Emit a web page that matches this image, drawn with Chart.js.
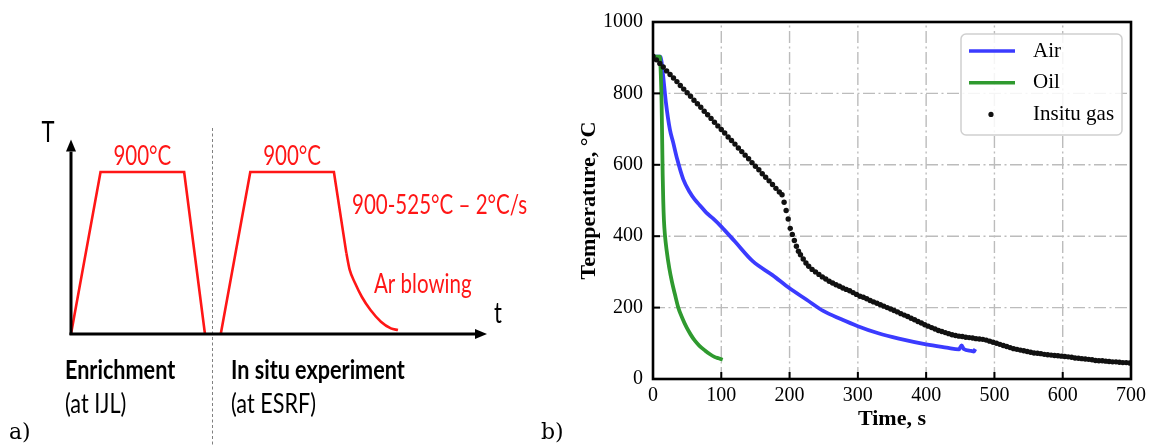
<!DOCTYPE html>
<html>
<head>
<meta charset="utf-8">
<title>Heat treatment and cooling curves</title>
<script src="https://cdn.jsdelivr.net/npm/chart.js@4.4.0/dist/chart.umd.min.js"></script>
<style>
  body { margin: 0; background: #fff; }
  #wrap { position: relative; width: 1151px; height: 446px; background: #fff; }
  canvas { position: absolute; top: 0; }
</style>
</head>
<body>
<div id="wrap">
  <canvas id="schematic" width="530" height="446" style="left:0"></canvas>
  <canvas id="cooling" width="621" height="446" style="left:530px"></canvas>
</div>
<script>
// a) heat treatment schematic (arbitrary time units, temperature in °C)
const enrichTime = [0, 7.1, 27.2, 32.2];
const enrichTemp = [0, 900, 900, 0];
const insituTime = [36.0, 43.1, 63.2, 66.2];
const insituTemp = [0, 900, 900, 448];
const blowTime = [66.2, 67.0, 68.3, 69.9, 72.0, 74.5, 76.9, 78.6];
const blowTemp = [448, 356, 282, 207, 133, 68, 31, 22];

// b) measured cooling curves, time in s, temperature in °C
const airTime = [1, 11, 12.6, 16, 19, 24.7, 29.6, 35.4, 44.2, 53.9,
  61, 68.4, 78, 87.8, 100, 120, 146, 175, 200, 225,
  250, 275, 300, 330, 360, 400, 430, 448, 452, 455,
  466, 470, 472];
const airTemp = [903, 903, 888, 828, 773, 699, 662, 616, 560, 523,
  503, 487, 466, 450, 427, 385, 330, 291, 254, 222,
  190, 168, 148, 128, 113, 97, 88, 83, 94, 84,
  79, 77, 84];

const oilTime = [1, 10, 11.5, 12.6, 13.5, 14.2, 15, 16, 17.5, 20,
  23.8, 28, 32, 37, 43, 49, 55, 61, 68, 76,
  83, 90, 96, 102];
const oilTemp = [903, 903, 850, 773, 660, 570, 500, 445, 403, 360,
  311, 270, 238, 200, 170, 145, 125, 108, 93, 80,
  70, 62, 58, 54];

const gasTime = [0, 5, 10, 15, 20, 25, 30, 35, 40, 45,
  50, 55, 60, 65, 70, 75, 80, 85, 90, 95,
  100, 105, 110, 115, 120, 125, 130, 135, 140, 145,
  150, 155, 160, 165, 170, 175, 180, 185, 189, 192,
  195, 198, 201, 204, 207, 210, 213, 216, 220, 224,
  228, 233, 238, 243, 248, 253, 258, 263, 268, 273,
  278, 283, 288, 293, 298, 303, 308, 313, 318, 323,
  328, 333, 338, 343, 348, 353, 358, 363, 368, 373,
  378, 383, 388, 393, 398, 403, 408, 413, 418, 423,
  428, 433, 438, 443, 448, 453, 458, 463, 468, 473,
  478, 483, 488, 493, 498, 503, 508, 513, 518, 523,
  528, 533, 538, 543, 548, 553, 558, 563, 568, 573,
  578, 583, 588, 593, 598, 603, 608, 613, 618, 623,
  628, 633, 638, 643, 648, 653, 658, 663, 668, 673,
  678, 683, 688, 693, 698];
const gasTemp = [904, 894, 884, 874, 863, 853, 843, 833, 822, 812,
  802, 792, 781, 771, 761, 750, 740, 730, 719, 709,
  699, 689, 678, 668, 658, 647, 637, 627, 617, 606,
  596, 586, 575, 565, 555, 545, 534, 524, 516, 495,
  472, 448, 422, 405, 388, 372, 358, 348, 336, 325,
  316, 307, 300, 293, 286, 280, 274, 269, 264, 260,
  255, 251, 247, 242, 237, 232, 229, 225, 220, 216,
  212, 208, 204, 200, 196, 192, 188, 183, 179, 175,
  170, 166, 161, 157, 152, 148, 144, 140, 136, 133,
  130, 127, 124, 122, 120, 119, 117, 116, 115, 113,
  112, 111, 109, 106, 103, 100, 97, 94, 91, 88,
  85, 83, 81, 79, 77, 75, 73, 72, 71, 69,
  68, 67, 66, 65, 64, 63, 62, 61, 59, 58,
  57, 56, 55, 54, 52, 51, 51, 50, 49, 48,
  48, 47, 46, 46, 45];

const toXY = (xs, ys) => xs.map((x, i) => ({ x: x, y: ys[i] }));

const red = '#ff1616';
const sans = 'Lato, "Open Sans", sans-serif';
const serif = '"Liberation Serif", "Times New Roman", serif';

// draws text squeezed horizontally (the schematic uses a narrow font)
function squeezeText(ctx, text, x, y, font, color, align, k) {
  ctx.save();
  ctx.font = font;
  ctx.fillStyle = color;
  ctx.textAlign = 'left';
  ctx.textBaseline = 'alphabetic';
  const w = ctx.measureText(text).width * k;
  const x0 = align === 'center' ? x - w / 2 : x;
  ctx.translate(x0, y);
  ctx.scale(k, 1);
  ctx.fillText(text, 0, 0);
  ctx.restore();
}

function arrowLine(ctx, x1, y1, x2, y2) {
  const ang = Math.atan2(y2 - y1, x2 - x1);
  const len = 12, half = 5;
  ctx.beginPath();
  ctx.moveTo(x1, y1);
  ctx.lineTo(x2 - Math.cos(ang) * len, y2 - Math.sin(ang) * len);
  ctx.stroke();
  ctx.beginPath();
  ctx.moveTo(x2, y2);
  ctx.lineTo(x2 - Math.cos(ang) * len - Math.sin(ang) * half, y2 - Math.sin(ang) * len + Math.cos(ang) * half);
  ctx.lineTo(x2 - Math.cos(ang) * len + Math.sin(ang) * half, y2 - Math.sin(ang) * len - Math.cos(ang) * half);
  ctx.closePath();
  ctx.fill();
}

const schematicDecor = {
  id: 'schematicDecor',
  beforeDatasetsDraw(chart) {
    const { ctx, scales: { x } } = chart;
    // dotted divider between the two steps
    const px = Math.round(x.getPixelForValue(34)) + 0.5;
    ctx.save();
    ctx.strokeStyle = '#808080';
    ctx.lineWidth = 1;
    ctx.setLineDash([3, 2.5]);
    ctx.beginPath();
    ctx.moveTo(px, 128);
    ctx.lineTo(px, 446);
    ctx.stroke();
    ctx.restore();
  },
  afterDatasetsDraw(chart) {
    const { ctx, chartArea: a } = chart;
    ctx.save();
    ctx.strokeStyle = '#000';
    ctx.fillStyle = '#000';
    ctx.lineWidth = 3;
    arrowLine(ctx, a.left, a.bottom + 1, a.left, a.top);
    arrowLine(ctx, a.left - 1.5, a.bottom, a.right, a.bottom);
    ctx.restore();
  },
  afterDraw(chart) {
    const { ctx, scales: { x, y } } = chart;
    const k = 0.76;
    const f = '27px ' + sans;
    const fb = 'bold 27px ' + sans;
    const topY = y.getPixelForValue(900) - 7;
    squeezeText(ctx, '900°C', x.getPixelForValue((enrichTime[1] + enrichTime[2]) / 2), topY, f, red, 'center', k);
    squeezeText(ctx, '900°C', x.getPixelForValue((insituTime[1] + insituTime[2]) / 2), topY, f, red, 'center', k);
    squeezeText(ctx, '900-525°C – 2°C/s', 352, 214, f, red, 'left', k);
    squeezeText(ctx, 'Ar blowing', 374, 293, f, red, 'left', k);
    squeezeText(ctx, 'T', 48, 142, '29px ' + sans, '#000', 'center', k);
    squeezeText(ctx, 't', 494, 323, '29px ' + sans, '#000', 'left', k);
    squeezeText(ctx, 'Enrichment', 65, 379, fb, '#000', 'left', 0.8);
    squeezeText(ctx, '(at IJL)', 65, 413, f, '#000', 'left', 0.8);
    squeezeText(ctx, 'In situ experiment', 231, 379, fb, '#000', 'left', 0.8);
    squeezeText(ctx, '(at ESRF)', 231, 413, f, '#000', 'left', 0.8);
    ctx.save();
    ctx.font = '22px "DejaVu Serif", serif';
    ctx.fillStyle = '#000';
    ctx.fillText('a)', 9, 439);
    ctx.restore();
  }
};

new Chart(document.getElementById('schematic'), {
  type: 'scatter',
  data: {
    datasets: [
      { data: toXY(enrichTime, enrichTemp), showLine: true, borderColor: red, borderWidth: 2.6, pointRadius: 0 },
      { data: toXY(insituTime, insituTemp), showLine: true, borderColor: red, borderWidth: 2.6, pointRadius: 0 },
      { data: toXY(blowTime, blowTemp), showLine: true, borderColor: red, borderWidth: 2.6, pointRadius: 0,
        cubicInterpolationMode: 'monotone' }
    ]
  },
  options: {
    responsive: false,
    animation: false,
    devicePixelRatio: 1,
    layout: { padding: { left: 71, right: 43, top: 139.6, bottom: 112 } },
    scales: {
      x: { type: 'linear', display: false, min: 0, max: 100 },
      y: { display: false, min: 0, max: 1080 }
    },
    plugins: { legend: { display: false }, tooltip: { enabled: false } }
  },
  plugins: [schematicDecor]
});

// b) cooling curves
const tickFont = { family: serif, size: 20 };
const titleFont = { family: serif, size: 22, weight: 'bold' };

const frameAndLegend = {
  id: 'frameAndLegend',
  beforeDatasetsDraw(chart) {
    const { ctx, chartArea: a, scales: { x, y } } = chart;
    ctx.save();
    ctx.strokeStyle = '#bcbcbc';
    ctx.lineWidth = 1.4;
    ctx.setLineDash([12, 3.5, 2, 3.5]);
    x.ticks.forEach(t => {
      if (t.value <= x.min || t.value >= x.max) return;
      const px = x.getPixelForValue(t.value);
      ctx.beginPath();
      ctx.moveTo(px, a.bottom);
      ctx.lineTo(px, a.top);
      ctx.stroke();
    });
    y.ticks.forEach(t => {
      if (t.value <= y.min || t.value >= y.max) return;
      const py = y.getPixelForValue(t.value);
      ctx.beginPath();
      ctx.moveTo(a.left, py);
      ctx.lineTo(a.right, py);
      ctx.stroke();
    });
    ctx.restore();
  },
  afterDatasetsDraw(chart) {
    const { ctx, chartArea: a, scales: { x, y } } = chart;
    ctx.save();
    ctx.strokeStyle = '#000';
    ctx.lineWidth = 2;
    x.ticks.forEach(t => {
      const px = x.getPixelForValue(t.value);
      ctx.beginPath();
      ctx.moveTo(px, a.bottom);
      ctx.lineTo(px, a.bottom - 7);
      ctx.stroke();
    });
    y.ticks.forEach(t => {
      const py = y.getPixelForValue(t.value);
      ctx.beginPath();
      ctx.moveTo(a.left, py);
      ctx.lineTo(a.left + 7, py);
      ctx.stroke();
    });
    ctx.lineWidth = 2.6;
    ctx.strokeRect(a.left, a.top, a.right - a.left, a.bottom - a.top);
    ctx.restore();
  },
  afterDraw(chart) {
    const { ctx, chartArea: a } = chart;
    // legend box in the upper right corner of the plot
    const bx = a.right - 170, by = a.top + 12, bw = 161, bh = 101;
    ctx.save();
    ctx.beginPath();
    ctx.roundRect(bx, by, bw, bh, 5);
    ctx.fillStyle = 'rgba(255,255,255,0.85)';
    ctx.fill();
    ctx.strokeStyle = '#cfcfcf';
    ctx.lineWidth = 1.5;
    ctx.stroke();
    ctx.font = '21px ' + serif;
    ctx.textBaseline = 'middle';
    chart.data.datasets.forEach((ds, i) => {
      const ry = by + 17 + i * 31.7;
      if (ds.showLine) {
        ctx.strokeStyle = ds.borderColor;
        ctx.lineWidth = 3.5;
        ctx.beginPath();
        ctx.moveTo(bx + 8, ry);
        ctx.lineTo(bx + 54, ry);
        ctx.stroke();
      } else {
        ctx.fillStyle = ds.backgroundColor;
        ctx.beginPath();
        ctx.arc(bx + 30, ry, 2.6, 0, Math.PI * 2);
        ctx.fill();
      }
      ctx.fillStyle = '#000';
      ctx.fillText(ds.label, bx + 72, ry);
    });
    ctx.font = '22px "DejaVu Serif", serif';
    ctx.textBaseline = 'alphabetic';
    ctx.fillText('b)', 11, 439);
    ctx.restore();
  }
};

new Chart(document.getElementById('cooling'), {
  type: 'scatter',
  data: {
    datasets: [
      { label: 'Air', data: toXY(airTime, airTemp), showLine: true, borderColor: '#3b3bff', borderWidth: 3.8,
        pointRadius: 0, cubicInterpolationMode: 'monotone', order: 3 },
      { label: 'Oil', data: toXY(oilTime, oilTemp), showLine: true, borderColor: '#2f9a2f', borderWidth: 3.8,
        pointRadius: 0, cubicInterpolationMode: 'monotone', order: 2 },
      { label: 'Insitu gas', data: toXY(gasTime, gasTemp), showLine: false, pointRadius: 2.7,
        backgroundColor: '#111', borderWidth: 0, order: 1 }
    ]
  },
  options: {
    responsive: false,
    animation: false,
    devicePixelRatio: 1,
    layout: { padding: { left: 0, right: 17, top: 18, bottom: 0 } },
    scales: {
      x: {
        type: 'linear', min: 0, max: 700,
        ticks: { stepSize: 100, font: tickFont, color: '#000', padding: 5, maxRotation: 0, callback: v => String(v) },
        grid: { display: false, drawTicks: false },
        border: { display: false },
        title: { display: true, text: 'Time, s', font: titleFont, color: '#000', padding: { top: 0, bottom: 13.3 } },
        afterFit: s => { s.height = 67; }
      },
      y: {
        min: 0, max: 1000,
        ticks: { stepSize: 200, font: tickFont, color: '#000', padding: 10, callback: v => String(v) },
        grid: { display: false, drawTicks: false },
        border: { display: false },
        title: { display: true, text: 'Temperature, °C', font: titleFont, color: '#000', padding: { top: 46.3, bottom: 0 } },
        afterFit: s => { s.width = 123; }
      }
    },
    plugins: { legend: { display: false }, tooltip: { enabled: false } }
  },
  plugins: [frameAndLegend]
});
</script>
</body>
</html>
